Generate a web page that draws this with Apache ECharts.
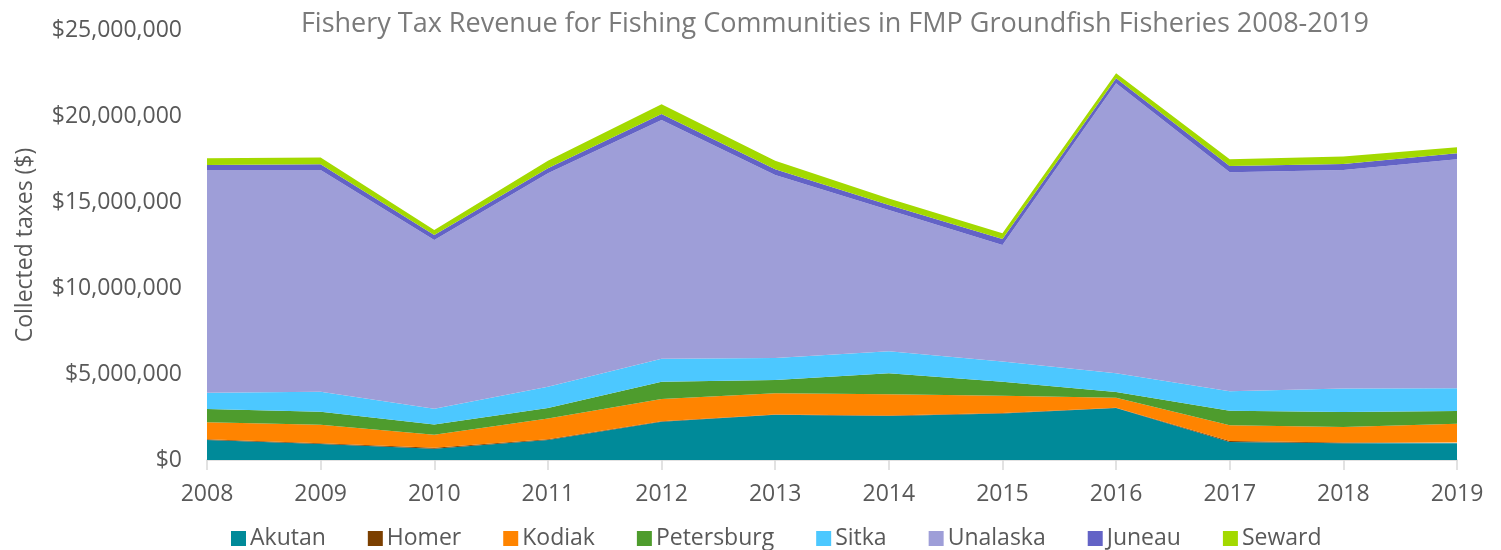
<!DOCTYPE html>
<html>
<head>
<meta charset="UTF-8">
<title>Fishery Tax Revenue</title>
<script src="https://cdn.jsdelivr.net/npm/echarts@6/dist/echarts.min.js"></script>
<style>
body{
margin:0;
background:#ffffff;
}
#chart{
width:1501px;
height:550px;
}
</style>
</head>
<body>

<div id="chart"></div>

<script>

// values in millions of dollars
const years = ["2008","2009","2010","2011","2012","2013","2014","2015","2016","2017","2018","2019"]

const akutan     = [1.16, 0.93, 0.66, 1.16, 2.23, 2.63, 2.56, 2.71, 3.02, 1.05, 0.97, 0.97]
const homer      = [0.05, 0.05, 0.05, 0.05, 0.02, 0.02, 0.02, 0.02, 0.02, 0.05, 0.05, 0.05]
const kodiak     = [0.98, 1.07, 0.76, 1.21, 1.30, 1.23, 1.24, 1.01, 0.58, 0.92, 0.90, 1.09]
const petersburg = [0.77, 0.76, 0.60, 0.60, 1.00, 0.77, 1.22, 0.81, 0.33, 0.85, 0.87, 0.74]
const sitka      = [0.95, 1.16, 0.91, 1.24, 1.34, 1.28, 1.28, 1.17, 1.09, 1.12, 1.36, 1.32]
const unalaska   = [12.95, 12.89, 9.81, 12.41, 13.88, 10.64, 8.21, 6.78, 16.86, 12.74, 12.71, 13.31]
const juneau     = [0.29, 0.34, 0.29, 0.29, 0.35, 0.33, 0.30, 0.35, 0.29, 0.36, 0.35, 0.35]
const seward     = [0.39, 0.38, 0.29, 0.44, 0.56, 0.50, 0.37, 0.33, 0.29, 0.39, 0.43, 0.35]

const names  = ["Akutan","Homer","Kodiak","Petersburg","Sitka","Unalaska","Juneau","Seward"]
const colors = ["#008a99","#7b3f00","#ff8400","#4e9c2d","#4cc8ff","#9e9ed8","#6363c6","#a3d900"]
const values = [akutan,homer,kodiak,petersburg,sitka,unalaska,juneau,seward]

const textColor = "#595959"
const font = "'Open Sans', sans-serif"

function money(v){
 return "$" + Math.round(v).toLocaleString("en-US")
}

const chart = echarts.init(document.getElementById("chart"))

chart.setOption({

 animation:false,

 title:{
  text:"Fishery Tax Revenue for Fishing Communities in FMP Groundfish Fisheries 2008-2019",
  left:830,
  textAlign:"center",
  top:6,
  textStyle:{
   color:"#7a7a7a",
   fontSize:27,
   fontWeight:"normal",
   fontFamily:font
  }
 },

 grid:{ left:207, right:44, top:30, bottom:90 },

 legend:{
  bottom:-5,
  left:226,
  itemGap:42,
  itemWidth:15,
  itemHeight:15,
  icon:"rect",
  data:names,
  textStyle:{ color:textColor, fontSize:23, fontFamily:font, padding:[0,0,0,-1] }
 },

 xAxis:{
  type:"category",
  data:years,
  boundaryGap:false,
  axisLine:{ lineStyle:{ color:"#d9d9d9", width:1.5 } },
  axisTick:{ length:10, lineStyle:{ color:"#d9d9d9", width:1.5 } },
  axisLabel:{ color:textColor, fontSize:23, fontFamily:font, margin:23 }
 },

 yAxis:{
  type:"value",
  min:0,
  max:25000000,
  interval:5000000,
  name:"Collected taxes ($)",
  nameLocation:"middle",
  nameGap:170,
  nameTextStyle:{ color:textColor, fontSize:23, fontFamily:font },
  splitLine:{ show:false },
  axisLine:{ show:false },
  axisTick:{ show:false },
  axisLabel:{ color:textColor, fontSize:23, fontFamily:font, margin:25, formatter:money }
 },

 series:names.map((n,i)=>({
  name:n,
  type:"line",
  stack:"total",
  symbol:"none",
  color:colors[i],
  lineStyle:{ width:0 },
  areaStyle:{ color:colors[i], opacity:1 },
  data:values[i].map(v=>v*1000000)
 }))

})

</script>

</body>
</html>
